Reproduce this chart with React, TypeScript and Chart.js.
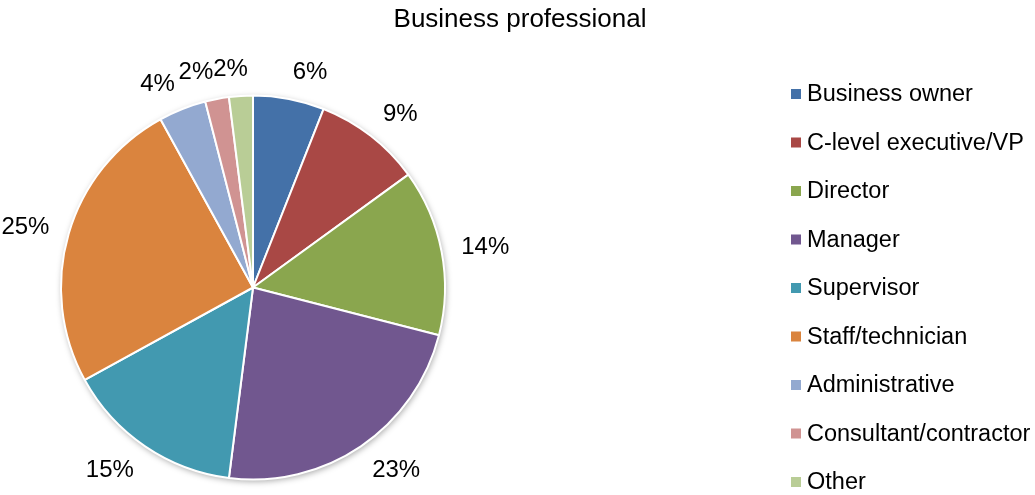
import React, { useEffect, useRef } from 'react';
import { Chart, registerables } from 'chart.js';

Chart.register(...registerables);

const TITLE = 'Business professional';
const categories = [
  'Business owner',
  'C-level executive/VP',
  'Director',
  'Manager',
  'Supervisor',
  'Staff/technician',
  'Administrative',
  'Consultant/contractor',
  'Other',
];
const values = [6, 9, 14, 23, 15, 25, 4, 2, 2];
const colors = ['#4471A8', '#A94845', '#8AA64E', '#71578F', '#4299B0', '#DA843E', '#93A9D0', '#D09392', '#B9CD96'];

const FONT = '"Liberation Sans", Arial, Helvetica, sans-serif';
const LABEL_SIZE = 24;
const LEGEND_SIZE = 23.5;
const TITLE_SIZE = 26;

const overlayPlugin = {
  id: 'overlay',
  beforeDatasetsDraw(chart: any) {
    const meta = chart.getDatasetMeta(0);
    if (!meta.data.length) return;
    const { x, y, outerRadius } = meta.data[0].getProps(['x', 'y', 'outerRadius'], true);
    const ctx = chart.ctx;
    ctx.save();
    ctx.shadowColor = 'rgba(0,0,0,0.35)';
    ctx.shadowBlur = 6;
    ctx.shadowOffsetX = 1;
    ctx.shadowOffsetY = 2;
    ctx.beginPath();
    ctx.arc(x, y, outerRadius, 0, Math.PI * 2);
    ctx.fillStyle = '#ffffff';
    ctx.fill();
    ctx.restore();
  },
  afterDatasetsDraw(chart: any) {
    const ctx = chart.ctx;
    const meta = chart.getDatasetMeta(0);
    const data: number[] = chart.data.datasets[0].data;
    const total = data.reduce((a, b) => a + b, 0);
    ctx.save();
    ctx.font = `${LABEL_SIZE}px ${FONT}`;
    ctx.fillStyle = '#000000';
    ctx.textAlign = 'center';
    ctx.textBaseline = 'middle';
    const h = 22;
    const gap = 17;
    const pos = meta.data.map((arc: any, i: number) => {
      const { startAngle, endAngle, x, y, outerRadius } = arc.getProps(
        ['startAngle', 'endAngle', 'x', 'y', 'outerRadius'],
        true
      );
      const mid = (startAngle + endAngle) / 2;
      const txt = Math.round((data[i] / total) * 100) + '%';
      const w = ctx.measureText(txt).width;
      const c = Math.cos(mid);
      const s = Math.sin(mid);
      const r = outerRadius + gap;
      return {
        txt,
        w,
        x: x + c * r + Math.sign(c) * (w / 2) + c * 3,
        y: y + s * r + s * (h / 2),
      };
    });
    for (let i = 1; i < pos.length; i++) {
      const a = pos[i - 1];
      const b = pos[i];
      if (Math.abs(a.y - b.y) < h && a.x < b.x && a.x + a.w / 2 > b.x - b.w / 2) {
        b.x = a.x + a.w / 2 + b.w / 2;
      }
    }
    pos.forEach((p: any) => ctx.fillText(p.txt, p.x, p.y + 1));
    ctx.restore();
  },
  afterDraw(chart: any) {
    const ctx = chart.ctx;
    ctx.save();
    // title
    ctx.font = `${TITLE_SIZE}px ${FONT}`;
    ctx.fillStyle = '#000000';
    ctx.textAlign = 'center';
    ctx.textBaseline = 'alphabetic';
    ctx.fillText(TITLE, 520, 26.5);
    // legend
    const labels: string[] = chart.data.labels;
    const bg: string[] = chart.data.datasets[0].backgroundColor;
    ctx.font = `${LEGEND_SIZE}px ${FONT}`;
    ctx.textAlign = 'left';
    ctx.textBaseline = 'middle';
    const top = 94;
    const step = 48.5;
    labels.forEach((lab, i) => {
      const cy = top + i * step;
      ctx.fillStyle = bg[i];
      ctx.fillRect(791, cy - 5, 10, 10);
      ctx.fillStyle = '#000000';
      ctx.fillText(lab, 807, cy + 1);
    });
    ctx.restore();
  },
};

export default function App() {
  const ref = useRef<HTMLCanvasElement | null>(null);
  useEffect(() => {
    if (!ref.current) return;
    const chart = new Chart(ref.current, {
      type: 'pie',
      data: {
        labels: categories,
        datasets: [
          {
            data: values,
            backgroundColor: colors,
            borderColor: '#ffffff',
            borderWidth: 2,
          },
        ],
      },
      options: {
        animation: false,
        responsive: true,
        maintainAspectRatio: false,
        layout: { padding: { left: 60, right: 589, top: 94, bottom: 14 } },
        plugins: {
          legend: { display: false },
          title: { display: false },
          tooltip: { enabled: false },
        },
      },
      plugins: [overlayPlugin],
    });
    return () => chart.destroy();
  }, []);
  return (
    <div style={{ position: 'absolute', left: 0, top: 0, width: 1035, height: 495, background: '#ffffff' }}>
      <canvas ref={ref} />
    </div>
  );
}
